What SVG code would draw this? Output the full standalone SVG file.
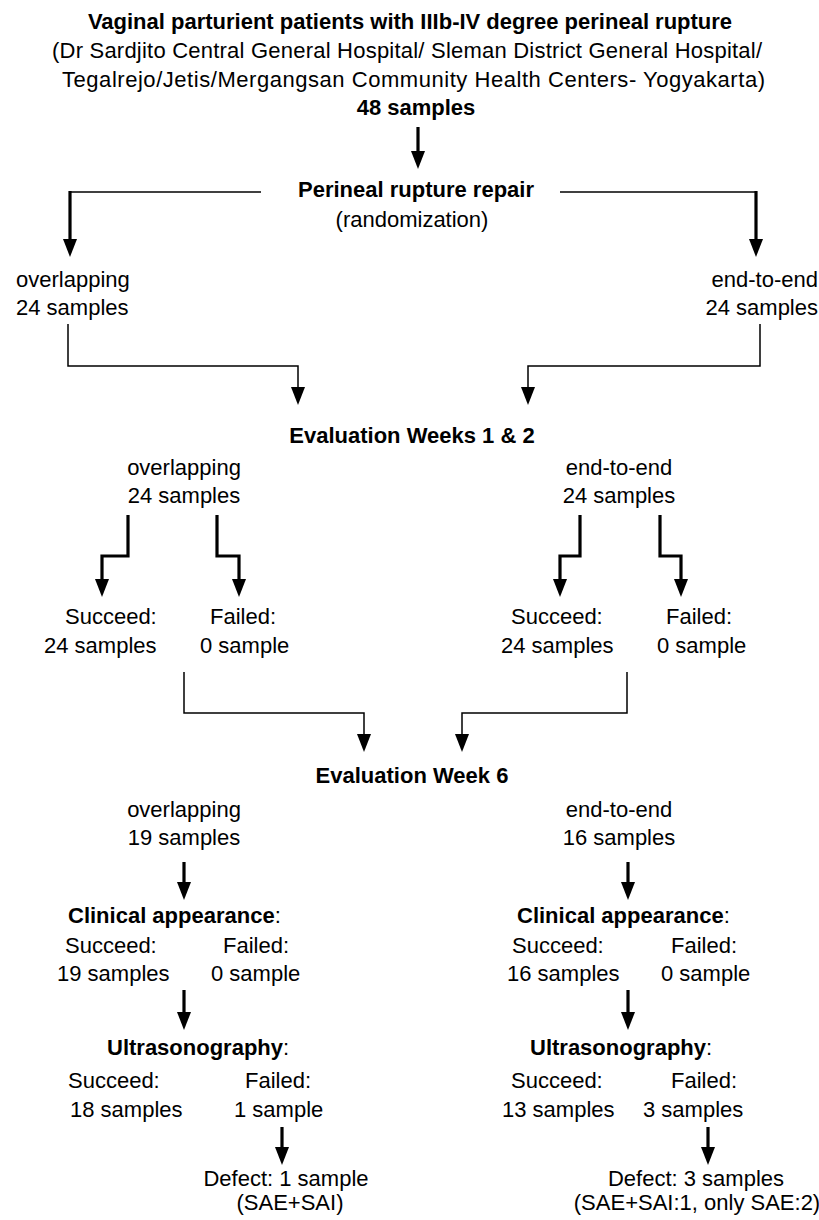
<svg xmlns="http://www.w3.org/2000/svg" width="819" height="1220" viewBox="0 0 819 1220">
<style>
text{font-family:"Liberation Sans",Arial,sans-serif;font-size:22px;fill:#000}
.b{font-weight:bold}
.m{text-anchor:middle}
.e{text-anchor:end}
.thin{fill:none;stroke:#000;stroke-width:1.5}
.thick{fill:none;stroke:#000;stroke-width:3.2}
</style>
<defs>
<marker id="ah" viewBox="0 0 18 14" refX="1" refY="7" markerWidth="18" markerHeight="14" markerUnits="userSpaceOnUse" orient="auto">
<path d="M0,0 L18,7 L0,14 z" fill="#000"/>
</marker>
</defs>
<rect width="819" height="1220" fill="#fff"/>
<g id="connectors">
<path class="thick" d="M418,127 V152" marker-end="url(#ah)"/>
<path class="thin" d="M261,192 H70"/>
<path class="thick" d="M70,191 V240" marker-end="url(#ah)"/>
<path class="thin" d="M560,192 H756"/>
<path class="thick" d="M756,191 V240" marker-end="url(#ah)"/>
<path class="thin" d="M68,324 V366 H298 V388" marker-end="url(#ah)"/>
<path class="thin" d="M760,324 V366 H528 V388" marker-end="url(#ah)"/>
<path class="thick" d="M128,515 V556 H102 V580" marker-end="url(#ah)"/>
<path class="thick" d="M217,515 V556 H239 V580" marker-end="url(#ah)"/>
<path class="thick" d="M580,515 V556 H560 V580" marker-end="url(#ah)"/>
<path class="thick" d="M660,515 V556 H681 V580" marker-end="url(#ah)"/>
<path class="thin" d="M184,672 V713 H364 V735" marker-end="url(#ah)"/>
<path class="thin" d="M627,672 V713 H462 V735" marker-end="url(#ah)"/>
<path class="thick" d="M184,862 V883" marker-end="url(#ah)"/>
<path class="thick" d="M628,862 V883" marker-end="url(#ah)"/>
<path class="thick" d="M184,990 V1013" marker-end="url(#ah)"/>
<path class="thick" d="M628,990 V1013" marker-end="url(#ah)"/>
<path class="thick" d="M282,1127 V1148" marker-end="url(#ah)"/>
<path class="thick" d="M708,1127 V1148" marker-end="url(#ah)"/>
</g>
<g id="population">
<text class="b m" x="410" y="29">Vaginal parturient patients with IIIb-IV degree perineal rupture</text>
<text x="52" y="58" textLength="710">(Dr Sardjito Central General Hospital/ Sleman District General Hospital/</text>
<text x="62" y="87" textLength="703">Tegalrejo/Jetis/Mergangsan Community Health Centers- Yogyakarta)</text>
<text class="b m" x="416" y="115">48 samples</text>
</g>
<g id="repair">
<text class="b m" x="416" y="197">Perineal rupture repair</text>
<text class="m" x="412" y="227">(randomization)</text>
</g>
<g id="overlapping-1">
<text x="16" y="287">overlapping</text>
<text x="16" y="315">24 samples</text>
</g>
<g id="end-to-end-1">
<text class="e" x="818" y="287">end-to-end</text>
<text class="e" x="818" y="315">24 samples</text>
</g>
<g id="eval-weeks-1-2">
<text class="b m" x="412" y="443">Evaluation Weeks 1 &amp; 2</text>
</g>
<g id="overlapping-2">
<text class="m" x="184" y="475">overlapping</text>
<text class="m" x="184" y="503">24 samples</text>
</g>
<g id="end-to-end-2">
<text class="m" x="619" y="475">end-to-end</text>
<text class="m" x="619" y="503">24 samples</text>
</g>
<g id="ov-succeed-2">
<text x="65" y="624">Succeed:</text>
<text x="44" y="653">24 samples</text>
</g>
<g id="ov-failed-2">
<text x="210" y="624">Failed:</text>
<text x="200" y="653">0 sample</text>
</g>
<g id="ee-succeed-2">
<text x="511" y="624">Succeed:</text>
<text x="501" y="653">24 samples</text>
</g>
<g id="ee-failed-2">
<text x="666" y="624">Failed:</text>
<text x="657" y="653">0 sample</text>
</g>
<g id="eval-week-6">
<text class="b m" x="412" y="783">Evaluation Week 6</text>
</g>
<g id="overlapping-6">
<text class="m" x="184" y="817">overlapping</text>
<text class="m" x="184" y="845">19 samples</text>
</g>
<g id="end-to-end-6">
<text class="m" x="619" y="817">end-to-end</text>
<text class="m" x="619" y="845">16 samples</text>
</g>
<g id="ov-clinical">
<text x="68" y="923"><tspan class="b">Clinical appearance</tspan>:</text>
<text x="65" y="953">Succeed:</text>
<text x="223" y="953">Failed:</text>
<text x="57" y="981">19 samples</text>
<text x="211" y="981">0 sample</text>
</g>
<g id="ee-clinical">
<text x="517" y="923"><tspan class="b">Clinical appearance</tspan>:</text>
<text x="512" y="953">Succeed:</text>
<text x="671" y="953">Failed:</text>
<text x="507" y="981">16 samples</text>
<text x="661" y="981">0 sample</text>
</g>
<g id="ov-usg">
<text x="107" y="1055"><tspan class="b">Ultrasonography</tspan>:</text>
<text x="68" y="1088">Succeed:</text>
<text x="245" y="1088">Failed:</text>
<text x="70" y="1117">18 samples</text>
<text x="234" y="1117">1 sample</text>
</g>
<g id="ee-usg">
<text x="530" y="1055"><tspan class="b">Ultrasonography</tspan>:</text>
<text x="511" y="1088">Succeed:</text>
<text x="671" y="1088">Failed:</text>
<text x="502" y="1117">13 samples</text>
<text x="643" y="1117">3 samples</text>
</g>
<g id="ov-defect">
<text class="m" x="286" y="1186">Defect: 1 sample</text>
<text class="m" x="290" y="1210">(SAE+SAI)</text>
</g>
<g id="ee-defect">
<text class="m" x="696" y="1186">Defect: 3 samples</text>
<text class="m" x="697" y="1210">(SAE+SAI:1, only SAE:2)</text>
</g>
</svg>
